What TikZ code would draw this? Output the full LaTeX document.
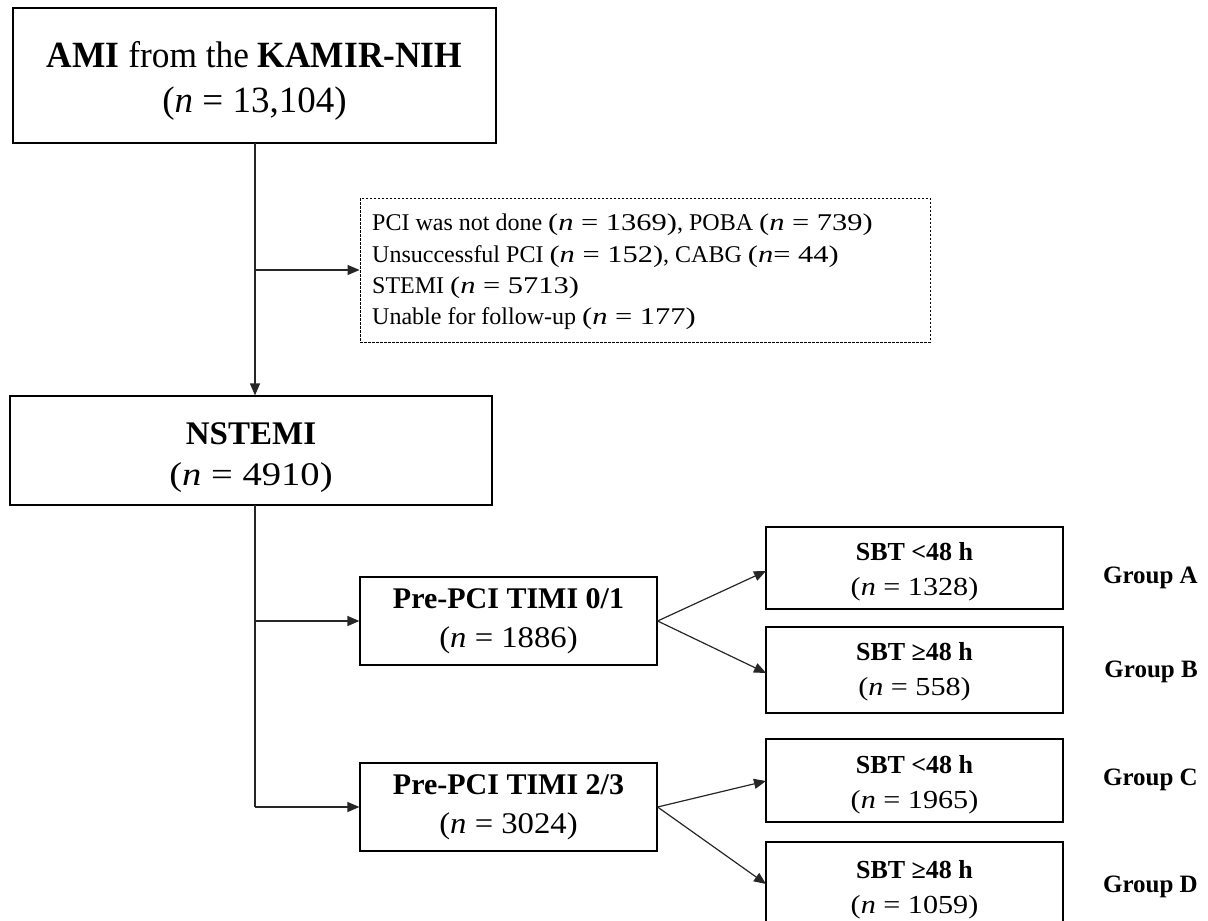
\documentclass[tikz,border=0pt]{standalone}
\usepackage{fontspec}
\usepackage{graphicx}
\setmainfont{Liberation Serif}
\usetikzlibrary{arrows.meta}
\newcommand{\nexp}[2]{\scalebox{#1}[1]{(\textit{n} = #2)}}
\newcommand{\hsc}[2]{\scalebox{#1}[1]{#2}}
\begin{document}
\begin{tikzpicture}[x=1pt,y=-1pt,
  box/.style={draw=black, line width=1.2pt, inner sep=0pt},
  dbox/.style={draw=black, line width=0.9pt, dash pattern=on 2.5pt off 1.5pt, inner sep=0pt},
  txt/.style={align=center, inner sep=0pt},
  conn/.style={draw=black!85, line width=1.2pt},
  arr/.style={conn, -{Triangle[length=12pt,width=10pt]}},
  grp/.style={font=\fontsize{25}{30}\selectfont\bfseries, anchor=east, inner sep=0pt}
]
\path[use as bounding box] (0,0) rectangle (1208,921);
\clip (0,0) rectangle (1208,921);
% boxes
\node[box, minimum width=483pt, minimum height=135pt] (top) at (254.5,75.5) {};
\node[dbox, minimum width=570pt, minimum height=144pt] (excl) at (645,270) {};
\node[box, minimum width=482pt, minimum height=109pt] (nst) at (251,450.5) {};
\node[box, minimum width=297pt, minimum height=88pt] (p01) at (508.5,621) {};
\node[box, minimum width=297pt, minimum height=88pt] (p23) at (508.5,807) {};
\node[box, minimum width=297pt, minimum height=82pt] (sa) at (914.5,568) {};
\node[box, minimum width=297pt, minimum height=86pt] (sb) at (914.5,670) {};
\node[box, minimum width=297pt, minimum height=83pt] (sc) at (914.5,780.5) {};
\node[box, minimum width=297pt, minimum height=94pt] (sd) at (914.5,889) {};
% texts
\node[txt, font=\fontsize{37}{45}\selectfont] (toptxt) at ([yshift=-5pt]top.center)
  {\hsc{0.955}{\textbf{AMI} from the \textbf{KAMIR-NIH}}\\(\textit{n} = 13,104)};
\node[txt, align=left, anchor=west, font=\fontsize{24}{31.3}\selectfont] (excltxt) at (372,272)
  {PCI was not done \nexp{1.27}{1369}, POBA \nexp{1.27}{739}\\
   Unsuccessful PCI \nexp{1.27}{152}, CABG \scalebox{1.27}[1]{(\textit{n}= 44)}\\
   STEMI \nexp{1.27}{5713}\\
   Unable for follow-up \nexp{1.27}{177}};
\node[txt, font=\fontsize{33}{41}\selectfont] (nsttxt) at ([yshift=-7pt]nst.center)
  {\textbf{NSTEMI}\\\nexp{1.17}{4910}};
\node[txt, font=\fontsize{30}{39}\selectfont] (p01txt) at (p01.center)
  {\textbf{Pre-PCI TIMI 0/1}\\\nexp{1.09}{1886}};
\node[txt, font=\fontsize{30}{39}\selectfont] (p23txt) at (p23.center)
  {\textbf{Pre-PCI TIMI 2/3}\\\nexp{1.09}{3024}};
\node[txt, font=\fontsize{26}{35}\selectfont] (satxt) at ([yshift=-4pt]sa.center)
  {\textbf{SBT <48 h}\\\nexp{1.16}{1328}};
\node[txt, font=\fontsize{26}{35}\selectfont] (sbtxt) at ([yshift=-2pt]sb.center)
  {\textbf{SBT ≥48 h}\\\nexp{1.16}{558}};
\node[txt, font=\fontsize{26}{35}\selectfont] (sctxt) at ([yshift=-4pt]sc.center)
  {\textbf{SBT <48 h}\\\nexp{1.16}{1965}};
\node[txt, font=\fontsize{26}{35}\selectfont] (sdtxt) at ([yshift=-1pt]sd.center)
  {\textbf{SBT ≥48 h}\\\nexp{1.16}{1059}};
\node[grp] (ga) at (1198,578) {Group A};
\node[grp] (gb) at (1198,672) {Group B};
\node[grp] (gc) at (1198,780) {Group C};
\node[grp] (gd) at (1198,887) {Group D};
% connectors
\coordinate (j0) at (255,143);
\draw[arr] (j0) -- (j0 |- nst.north);
\draw[arr] (j0 |- excl.west) -- (excl.west);
\coordinate (j1) at (255,505);
\draw[conn] (j1) -- (j1 |- p23.west);
\draw[arr] (j1 |- p23.west) -- (p23.west);
\draw[arr] (j1 |- p01.west) -- (p01.west);
\coordinate (ta) at (766,571);
\coordinate (tb) at (766,673);
\coordinate (tc) at (766,781);
\coordinate (td) at (766,884);
\draw[arr] (p01.east) -- (ta);
\draw[arr] (p01.east) -- (tb);
\draw[arr] (p23.east) -- (tc);
\draw[arr] (p23.east) -- (td);
\end{tikzpicture}
\end{document}
